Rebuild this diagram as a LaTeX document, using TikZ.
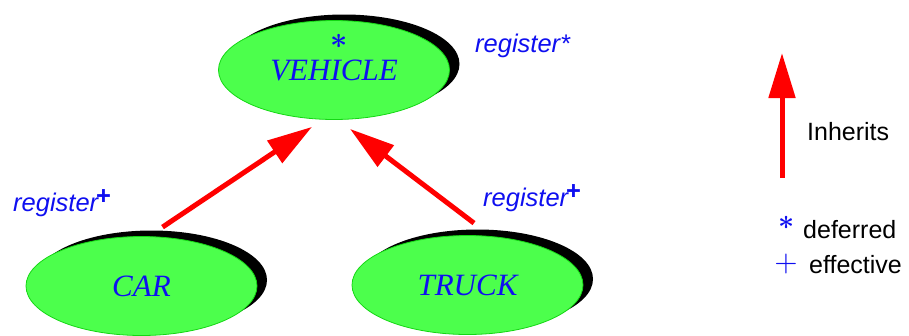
\documentclass[tikz,border=0pt]{standalone}
\usepackage{fontspec}
\usepackage{graphicx}
\newfontfamily\lsans{Liberation Sans}
\newfontfamily\lserif{Liberation Serif}
\usetikzlibrary{shapes.geometric,shadows,arrows.meta,calc}
\definecolor{cgreen}{RGB}{76,255,76}
\definecolor{cgreenline}{RGB}{20,215,20}
\definecolor{cblue}{RGB}{15,15,240}
\definecolor{cred}{RGB}{255,0,0}
\tikzset{
  cls/.style={ellipse, fill=cgreen, draw=cgreenline, line width=0.8pt,
    minimum width=231pt, minimum height=99pt, inner sep=0pt,
    font=\lserif\itshape\fontsize{31}{31}\selectfont, text=cblue,
    drop shadow={shadow xshift=10pt, shadow yshift=6pt, opacity=1, fill=black}},
  inh/.style={draw=cred, line width=5pt, -{Triangle[length=45pt,width=26pt]}, color=cred},
  feat/.style={font=\lsans\itshape\fontsize{25.5}{25.5}\selectfont, text=cblue, inner sep=0pt, anchor=base west},
  legtxt/.style={font=\lsans\fontsize{25}{25}\selectfont, text=black, inner sep=0pt},
  marksym/.style={text=cblue, inner sep=0pt, font=\normalsize\boldmath},
}
\begin{document}
\begin{tikzpicture}[x=1pt,y=-1pt]
\useasboundingbox (0,0) rectangle (909,335);
% classes
\node[cls] (veh) at (334,70) {VEHICLE};
\node[cls] (car) at (141.5,286) {CAR};
\node[cls] (truck) at (467.5,285) {TRUCK};
\node[marksym] (vast) at (339,41) {\scalebox{3}{$\ast$}};
% inheritance arrows
\draw[inh] ($(car.north)+(21,-9)$) -- ($(veh.south)+(-22,7)$);
\draw[inh] ($(truck.north)+(6.5,-12)$) -- ($(veh.south)+(16,9)$);
% feature labels
\node[feat] (fv) at (475,52) {register*};
\node[feat] (fc) at (13,211) {register\kern-2pt\raisebox{7pt}{\upshape\bfseries +}};
\node[feat] (ft) at (483,206) {register\kern-2pt\raisebox{7pt}{\upshape\bfseries +}};
% legend
\coordinate (l1) at (782,178);
\coordinate (l2) at (782,53);
\draw[inh] (l1) -- (l2);
\node[legtxt, anchor=west] (linh) at (807,132) {Inherits};
\node[marksym] (last) at (787,223) {\scalebox{2.8}{$\ast$}};
\node[legtxt, anchor=base west] (ldef) at (803,238) {deferred};
\node[marksym, font=\normalsize] (lplus) at (786,264) {\scalebox{3}{$+$}};
\node[legtxt, anchor=base west] (leff) at (809,273) {effective};
\end{tikzpicture}
\end{document}
